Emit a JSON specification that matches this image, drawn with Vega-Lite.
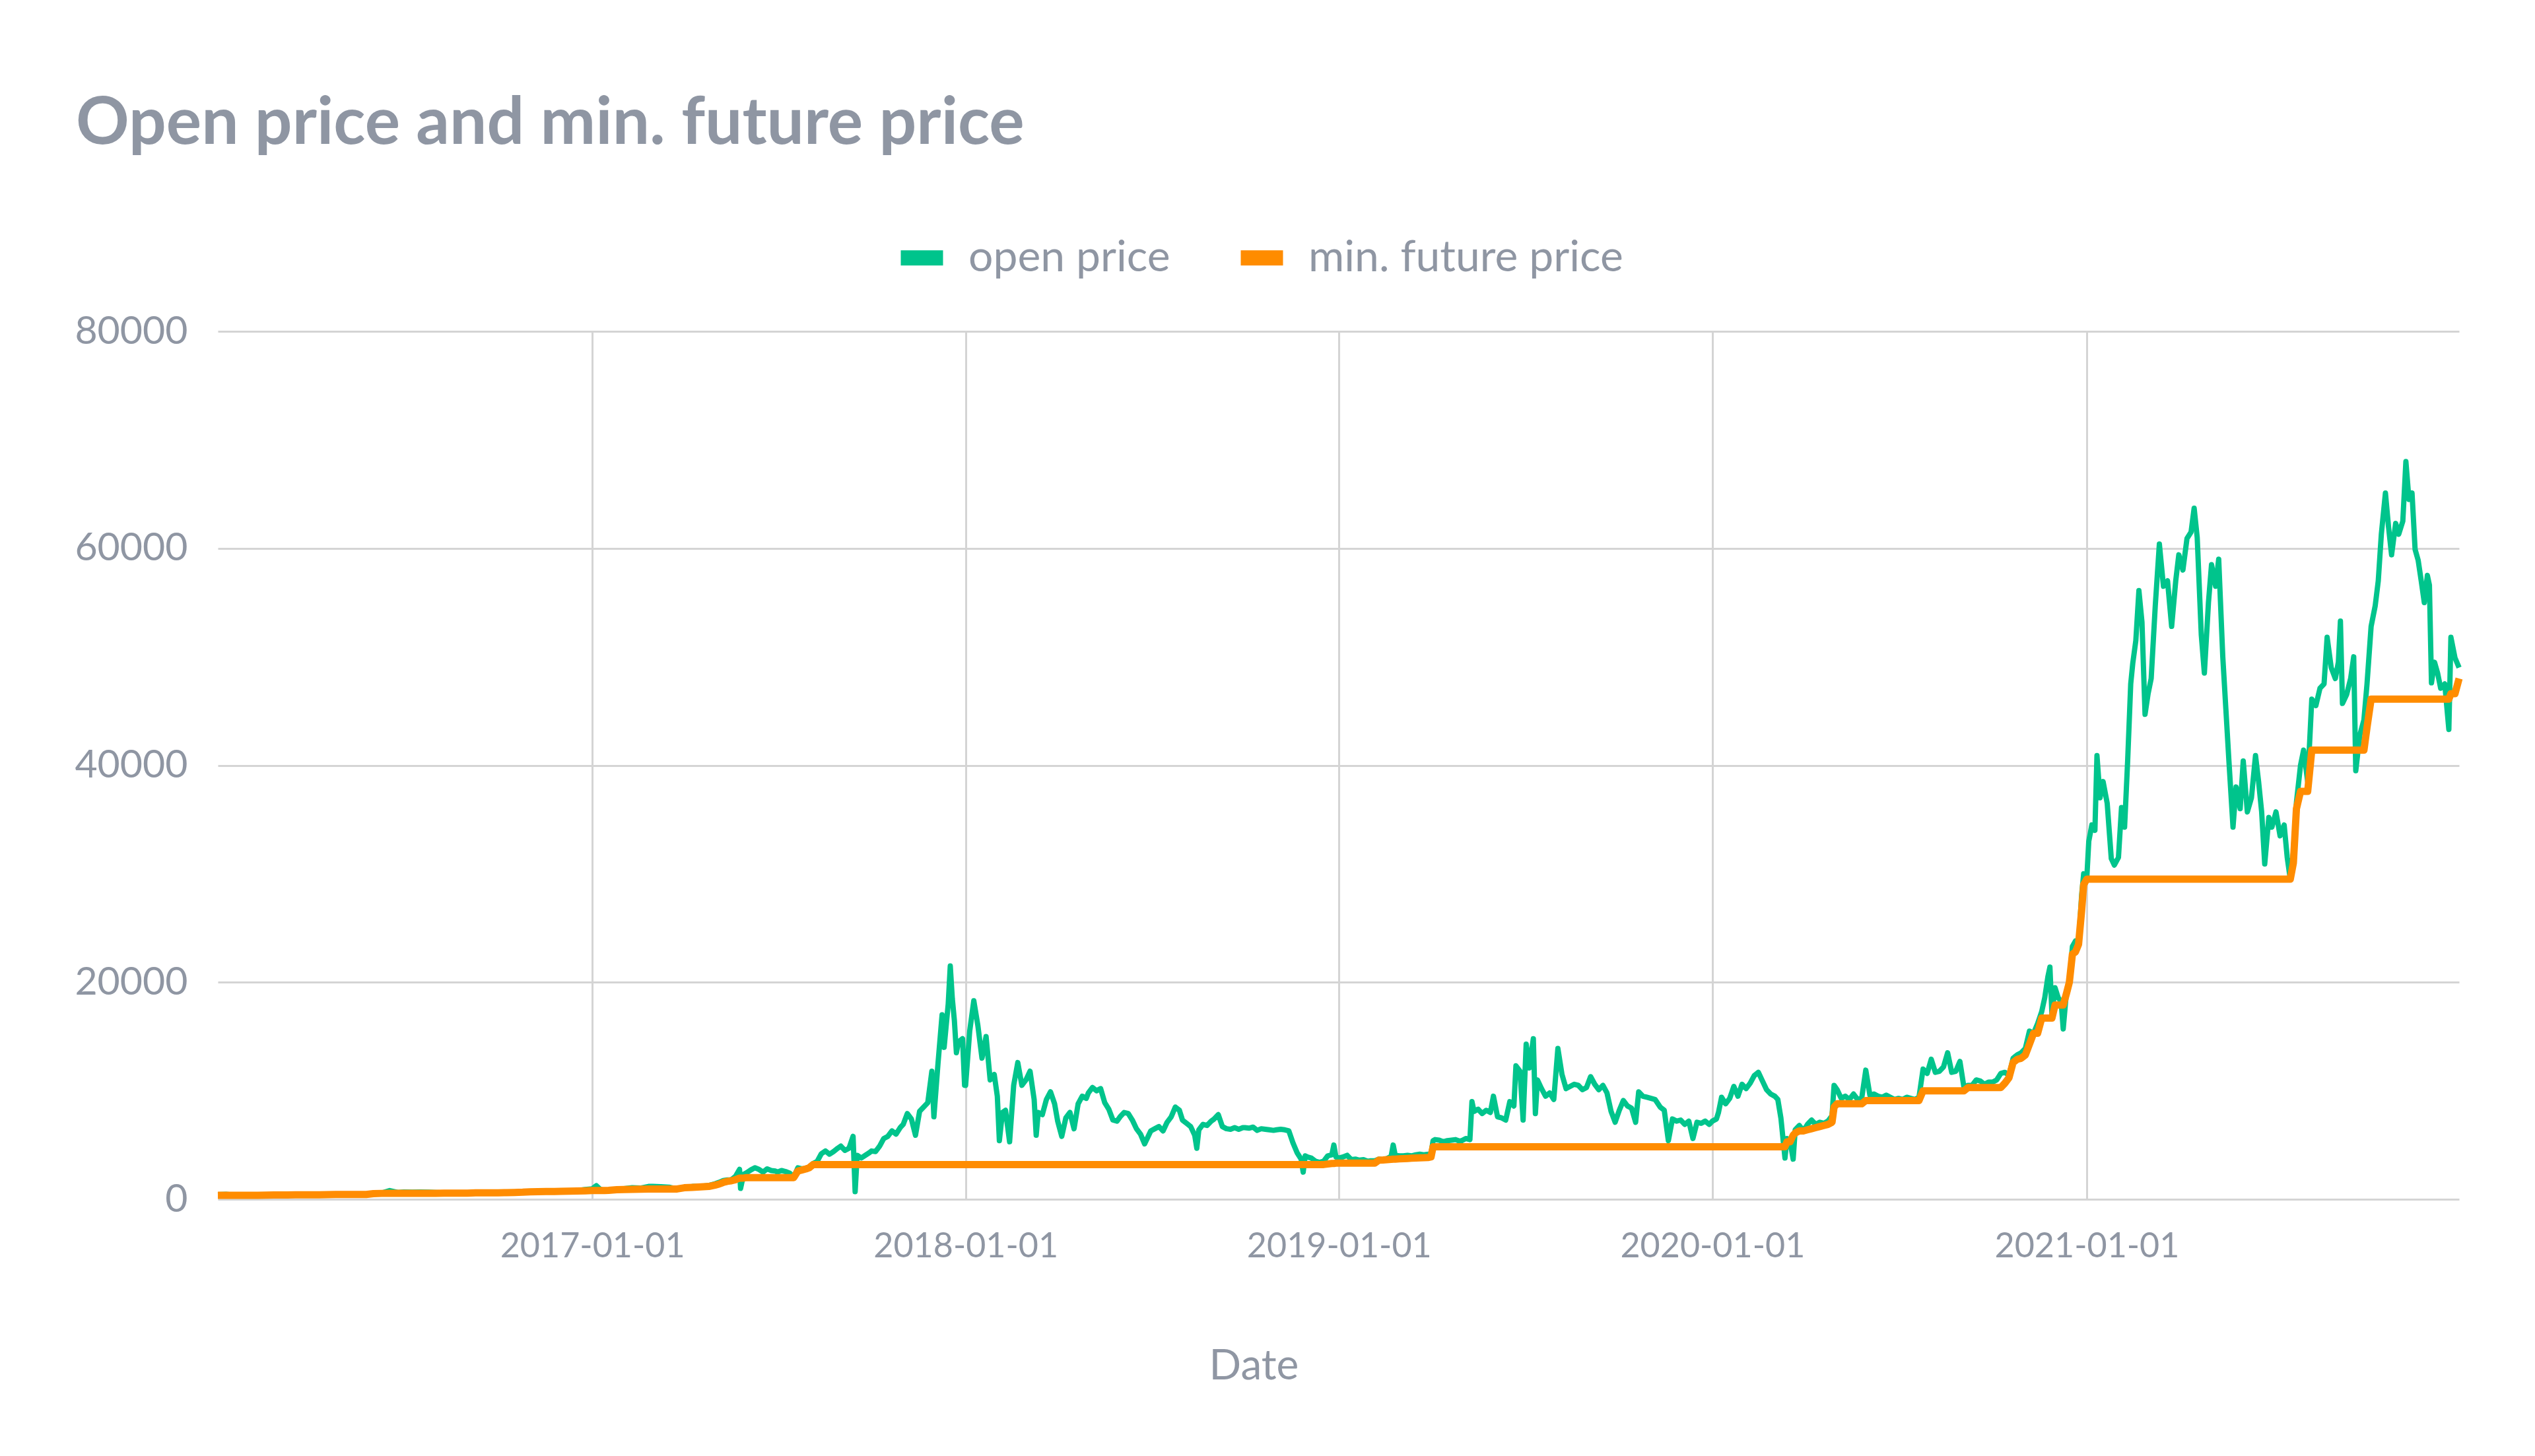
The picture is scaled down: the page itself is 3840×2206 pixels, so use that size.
{
"$schema":"https://vega.github.io/schema/vega-lite/v6.json",
"width":3395,"height":1315,
"autosize":{"type":"none"},
"padding":{"left":330,"top":502,"right":115,"bottom":389},
"background":"#ffffff",
"title":{"text":"Open price and min. future price","anchor":"start","frame":"group","dx":-215,"offset":108,"font":"Lato","fontSize":100,"fontWeight":"bold","color":"#8f96a3"},
"data":{"values":[
{"d":"2016-01-01","o":432,"m":370},{"d":"2016-01-09","o":450,"m":370},{"d":"2016-01-17","o":387,"m":370},{"d":"2016-01-25","o":395,"m":370},
{"d":"2016-02-01","o":373,"m":370},{"d":"2016-02-09","o":376,"m":372},{"d":"2016-02-17","o":407,"m":380},{"d":"2016-02-25","o":423,"m":400},
{"d":"2016-03-01","o":437,"m":400},{"d":"2016-03-09","o":412,"m":400},{"d":"2016-03-17","o":417,"m":405},{"d":"2016-03-25","o":417,"m":410},
{"d":"2016-04-01","o":416,"m":412},{"d":"2016-04-09","o":420,"m":415},{"d":"2016-04-17","o":430,"m":420},{"d":"2016-04-25","o":462,"m":440},
{"d":"2016-05-01","o":448,"m":440},{"d":"2016-05-09","o":458,"m":445},{"d":"2016-05-17","o":454,"m":445},{"d":"2016-05-25","o":446,"m":445},
{"d":"2016-06-01","o":531,"m":520},{"d":"2016-06-09","o":574,"m":540},{"d":"2016-06-17","o":800,"m":545},{"d":"2016-06-25","o":630,"m":545},
{"d":"2016-07-01","o":673,"m":545},{"d":"2016-07-09","o":650,"m":545},{"d":"2016-07-17","o":662,"m":545},{"d":"2016-07-25","o":660,"m":545},
{"d":"2016-08-01","o":624,"m":545},{"d":"2016-08-09","o":591,"m":560},{"d":"2016-08-17","o":576,"m":565},{"d":"2016-08-25","o":577,"m":570},
{"d":"2016-09-01","o":573,"m":570},{"d":"2016-09-09","o":622,"m":590},{"d":"2016-09-17","o":608,"m":595},{"d":"2016-09-25","o":601,"m":595},
{"d":"2016-10-01","o":610,"m":600},{"d":"2016-10-09","o":618,"m":610},{"d":"2016-10-17","o":640,"m":630},{"d":"2016-10-25","o":655,"m":650},
{"d":"2016-11-01","o":702,"m":690},{"d":"2016-11-09","o":711,"m":700},{"d":"2016-11-17","o":741,"m":710},{"d":"2016-11-25","o":739,"m":720},
{"d":"2016-12-01","o":748,"m":730},{"d":"2016-12-09","o":770,"m":750},{"d":"2016-12-17","o":790,"m":760},{"d":"2016-12-25","o":897,"m":780},
{"d":"2017-01-01","o":963,"m":800},{"d":"2017-01-05","o":1250,"m":800},{"d":"2017-01-09","o":905,"m":800},{"d":"2017-01-13","o":810,"m":800},
{"d":"2017-01-17","o":830,"m":820},{"d":"2017-01-25","o":920,"m":880},{"d":"2017-02-01","o":968,"m":900},{"d":"2017-02-09","o":1060,"m":920},
{"d":"2017-02-17","o":1030,"m":930},{"d":"2017-02-25","o":1180,"m":940},{"d":"2017-03-01","o":1190,"m":945},{"d":"2017-03-09","o":1150,"m":950},
{"d":"2017-03-17","o":1110,"m":950},{"d":"2017-03-25","o":960,"m":950},{"d":"2017-04-01","o":1080,"m":1060},{"d":"2017-04-09","o":1180,"m":1100},
{"d":"2017-04-17","o":1185,"m":1140},{"d":"2017-04-25","o":1265,"m":1180},
{"d":"2017-05-01","o":1430,"m":1300},{"d":"2017-05-05","o":1560,"m":1400},{"d":"2017-05-09","o":1720,"m":1550},{"d":"2017-05-13","o":1780,"m":1650},
{"d":"2017-05-17","o":1800,"m":1700},{"d":"2017-05-21","o":2100,"m":1800},{"d":"2017-05-25","o":2750,"m":1950},{"d":"2017-05-26","o":1000,"m":1950},
{"d":"2017-05-29","o":2300,"m":1950},
{"d":"2017-06-01","o":2450,"m":2000},{"d":"2017-06-05","o":2700,"m":2000},{"d":"2017-06-09","o":2900,"m":2000},{"d":"2017-06-13","o":2750,"m":2000},
{"d":"2017-06-17","o":2500,"m":2000},{"d":"2017-06-21","o":2800,"m":2000},{"d":"2017-06-25","o":2650,"m":2000},{"d":"2017-06-29","o":2600,"m":2000},
{"d":"2017-07-01","o":2500,"m":2000},{"d":"2017-07-05","o":2650,"m":2000},{"d":"2017-07-09","o":2550,"m":2000},{"d":"2017-07-13","o":2400,"m":2000},
{"d":"2017-07-17","o":2050,"m":2000},{"d":"2017-07-21","o":2900,"m":2600},{"d":"2017-07-25","o":2800,"m":2700},{"d":"2017-07-29","o":2850,"m":2800},
{"d":"2017-08-01","o":2950,"m":2900},{"d":"2017-08-05","o":3300,"m":3200},{"d":"2017-08-09","o":3500,"m":3200},{"d":"2017-08-13","o":4200,"m":3200},
{"d":"2017-08-17","o":4450,"m":3200},{"d":"2017-08-21","o":4150,"m":3200},{"d":"2017-08-25","o":4400,"m":3200},{"d":"2017-08-29","o":4700,"m":3200},
{"d":"2017-09-01","o":4900,"m":3200},{"d":"2017-09-05","o":4500,"m":3200},{"d":"2017-09-09","o":4700,"m":3200},{"d":"2017-09-13","o":5800,"m":3200},
{"d":"2017-09-15","o":700,"m":3200},{"d":"2017-09-17","o":4050,"m":3200},{"d":"2017-09-21","o":3800,"m":3200},{"d":"2017-09-25","o":4050,"m":3200},
{"d":"2017-09-29","o":4300,"m":3200},
{"d":"2017-10-01","o":4450,"m":3200},{"d":"2017-10-05","o":4400,"m":3200},{"d":"2017-10-09","o":4900,"m":3200},{"d":"2017-10-13","o":5600,"m":3200},
{"d":"2017-10-17","o":5800,"m":3200},{"d":"2017-10-21","o":6300,"m":3200},{"d":"2017-10-25","o":6000,"m":3200},{"d":"2017-10-29","o":6600,"m":3200},
{"d":"2017-11-01","o":6900,"m":3200},{"d":"2017-11-05","o":7900,"m":3200},{"d":"2017-11-09","o":7400,"m":3200},{"d":"2017-11-13","o":5900,"m":3200},
{"d":"2017-11-17","o":8100,"m":3200},{"d":"2017-11-21","o":8500,"m":3200},{"d":"2017-11-25","o":8900,"m":3200},{"d":"2017-11-29","o":11800,"m":3200},
{"d":"2017-12-01","o":7600,"m":3200},{"d":"2017-12-05","o":12500,"m":3200},{"d":"2017-12-09","o":17000,"m":3200},{"d":"2017-12-11","o":14000,"m":3200},
{"d":"2017-12-15","o":18000,"m":3200},{"d":"2017-12-17","o":21500,"m":3200},{"d":"2017-12-19","o":18500,"m":3200},{"d":"2017-12-21","o":16500,"m":3200},
{"d":"2017-12-23","o":13500,"m":3200},{"d":"2017-12-25","o":14500,"m":3200},{"d":"2017-12-29","o":14800,"m":3200},{"d":"2017-12-31","o":10500,"m":3200},
{"d":"2018-01-01","o":10500,"m":3200},{"d":"2018-01-05","o":15500,"m":3200},{"d":"2018-01-09","o":18300,"m":3200},{"d":"2018-01-13","o":16000,"m":3200},
{"d":"2018-01-17","o":13000,"m":3200},{"d":"2018-01-21","o":15000,"m":3200},{"d":"2018-01-25","o":11000,"m":3200},{"d":"2018-01-29","o":11500,"m":3200},
{"d":"2018-02-01","o":9500,"m":3200},{"d":"2018-02-03","o":5400,"m":3200},{"d":"2018-02-06","o":8000,"m":3200},{"d":"2018-02-09","o":8200,"m":3200},
{"d":"2018-02-13","o":5300,"m":3200},{"d":"2018-02-17","o":10500,"m":3200},{"d":"2018-02-21","o":12600,"m":3200},{"d":"2018-02-25","o":10500,"m":3200},
{"d":"2018-03-01","o":11000,"m":3200},{"d":"2018-03-05","o":11800,"m":3200},{"d":"2018-03-09","o":9200,"m":3200},{"d":"2018-03-11","o":5900,"m":3200},
{"d":"2018-03-13","o":8000,"m":3200},{"d":"2018-03-17","o":7800,"m":3200},{"d":"2018-03-21","o":9200,"m":3200},{"d":"2018-03-25","o":9900,"m":3200},
{"d":"2018-03-29","o":8800,"m":3200},{"d":"2018-04-01","o":7200,"m":3200},{"d":"2018-04-05","o":5800,"m":3200},{"d":"2018-04-09","o":7500,"m":3200},
{"d":"2018-04-13","o":8000,"m":3200},{"d":"2018-04-17","o":6500,"m":3200},{"d":"2018-04-21","o":8800,"m":3200},{"d":"2018-04-25","o":9500,"m":3200},
{"d":"2018-04-29","o":9300,"m":3200},{"d":"2018-05-01","o":9800,"m":3200},{"d":"2018-05-05","o":10300,"m":3200},{"d":"2018-05-09","o":10000,"m":3200},
{"d":"2018-05-13","o":10200,"m":3200},{"d":"2018-05-17","o":8900,"m":3200},{"d":"2018-05-21","o":8300,"m":3200},{"d":"2018-05-25","o":7300,"m":3200},
{"d":"2018-05-29","o":7200,"m":3200},{"d":"2018-06-01","o":7600,"m":3200},{"d":"2018-06-05","o":8000,"m":3200},{"d":"2018-06-09","o":7900,"m":3200},
{"d":"2018-06-13","o":7300,"m":3200},{"d":"2018-06-17","o":6500,"m":3200},{"d":"2018-06-21","o":6000,"m":3200},{"d":"2018-06-25","o":5100,"m":3200},
{"d":"2018-06-29","o":5900,"m":3200},{"d":"2018-07-01","o":6300,"m":3200},{"d":"2018-07-05","o":6500,"m":3200},{"d":"2018-07-09","o":6700,"m":3200},
{"d":"2018-07-13","o":6300,"m":3200},{"d":"2018-07-17","o":7100,"m":3200},{"d":"2018-07-21","o":7600,"m":3200},{"d":"2018-07-25","o":8500,"m":3200},
{"d":"2018-07-29","o":8200,"m":3200},{"d":"2018-08-01","o":7300,"m":3200},{"d":"2018-08-05","o":7000,"m":3200},{"d":"2018-08-09","o":6700,"m":3200},
{"d":"2018-08-13","o":5900,"m":3200},{"d":"2018-08-15","o":4700,"m":3200},{"d":"2018-08-17","o":6400,"m":3200},{"d":"2018-08-21","o":6900,"m":3200},
{"d":"2018-08-25","o":6800,"m":3200},{"d":"2018-08-29","o":7200,"m":3200},{"d":"2018-09-01","o":7400,"m":3200},{"d":"2018-09-05","o":7800,"m":3200},
{"d":"2018-09-09","o":6700,"m":3200},{"d":"2018-09-13","o":6500,"m":3200},{"d":"2018-09-17","o":6450,"m":3200},{"d":"2018-09-21","o":6600,"m":3200},
{"d":"2018-09-25","o":6450,"m":3200},{"d":"2018-09-29","o":6600,"m":3200},{"d":"2018-10-01","o":6600,"m":3200},{"d":"2018-10-05","o":6550,"m":3200},
{"d":"2018-10-09","o":6650,"m":3200},{"d":"2018-10-13","o":6350,"m":3200},{"d":"2018-10-17","o":6500,"m":3200},{"d":"2018-10-21","o":6450,"m":3200},
{"d":"2018-10-25","o":6400,"m":3200},{"d":"2018-10-29","o":6350,"m":3200},{"d":"2018-11-01","o":6400,"m":3200},{"d":"2018-11-05","o":6450,"m":3200},
{"d":"2018-11-09","o":6400,"m":3200},{"d":"2018-11-13","o":6300,"m":3200},{"d":"2018-11-17","o":5200,"m":3200},{"d":"2018-11-21","o":4300,"m":3200},
{"d":"2018-11-25","o":3700,"m":3200},{"d":"2018-11-27","o":2500,"m":3200},{"d":"2018-11-29","o":4000,"m":3200},{"d":"2018-12-01","o":3900,"m":3200},
{"d":"2018-12-05","o":3800,"m":3200},{"d":"2018-12-09","o":3500,"m":3200},{"d":"2018-12-13","o":3400,"m":3200},{"d":"2018-12-17","o":3500,"m":3200},
{"d":"2018-12-21","o":4000,"m":3250},{"d":"2018-12-25","o":4100,"m":3300},{"d":"2018-12-27","o":5000,"m":3300},{"d":"2018-12-29","o":3900,"m":3330},
{"d":"2019-01-01","o":3800,"m":3330},{"d":"2019-01-05","o":3900,"m":3330},{"d":"2019-01-09","o":4050,"m":3330},{"d":"2019-01-13","o":3650,"m":3330},
{"d":"2019-01-17","o":3700,"m":3330},{"d":"2019-01-21","o":3600,"m":3330},{"d":"2019-01-25","o":3650,"m":3330},{"d":"2019-01-29","o":3500,"m":3330},
{"d":"2019-02-01","o":3550,"m":3330},{"d":"2019-02-05","o":3550,"m":3330},{"d":"2019-02-09","o":3700,"m":3600},{"d":"2019-02-13","o":3650,"m":3620},
{"d":"2019-02-17","o":3750,"m":3650},{"d":"2019-02-21","o":3950,"m":3680},{"d":"2019-02-23","o":5000,"m":3700},{"d":"2019-02-25","o":4050,"m":3700},
{"d":"2019-03-01","o":4000,"m":3720},{"d":"2019-03-05","o":4000,"m":3740},{"d":"2019-03-09","o":4050,"m":3760},{"d":"2019-03-13","o":4000,"m":3780},
{"d":"2019-03-17","o":4100,"m":3800},{"d":"2019-03-21","o":4150,"m":3820},{"d":"2019-03-25","o":4100,"m":3830},{"d":"2019-03-29","o":4150,"m":3850},
{"d":"2019-04-01","o":4200,"m":3900},{"d":"2019-04-03","o":5400,"m":4840},{"d":"2019-04-05","o":5500,"m":4840},{"d":"2019-04-09","o":5450,"m":4840},
{"d":"2019-04-13","o":5300,"m":4840},{"d":"2019-04-17","o":5400,"m":4840},{"d":"2019-04-21","o":5450,"m":4840},{"d":"2019-04-25","o":5500,"m":4840},
{"d":"2019-04-29","o":5350,"m":4840},{"d":"2019-05-01","o":5400,"m":4840},{"d":"2019-05-05","o":5600,"m":4840},{"d":"2019-05-09","o":5500,"m":4840},
{"d":"2019-05-11","o":9000,"m":4840},{"d":"2019-05-13","o":8100,"m":4840},{"d":"2019-05-17","o":8300,"m":4840},{"d":"2019-05-21","o":7900,"m":4840},
{"d":"2019-05-25","o":8200,"m":4840},{"d":"2019-05-29","o":8000,"m":4840},{"d":"2019-06-01","o":9500,"m":4840},{"d":"2019-06-05","o":7600,"m":4840},
{"d":"2019-06-09","o":7500,"m":4840},{"d":"2019-06-13","o":7300,"m":4840},{"d":"2019-06-17","o":9000,"m":4840},{"d":"2019-06-21","o":8600,"m":4840},
{"d":"2019-06-23","o":12300,"m":4840},{"d":"2019-06-27","o":11800,"m":4840},{"d":"2019-06-30","o":7300,"m":4840},{"d":"2019-07-03","o":14300,"m":4840},
{"d":"2019-07-06","o":12100,"m":4840},{"d":"2019-07-10","o":14800,"m":4840},{"d":"2019-07-12","o":7900,"m":4840},{"d":"2019-07-14","o":11000,"m":4840},
{"d":"2019-07-18","o":10200,"m":4840},{"d":"2019-07-22","o":9500,"m":4840},{"d":"2019-07-26","o":9800,"m":4840},{"d":"2019-07-30","o":9200,"m":4840},
{"d":"2019-08-03","o":13900,"m":4840},{"d":"2019-08-07","o":11500,"m":4840},{"d":"2019-08-11","o":10200,"m":4840},{"d":"2019-08-15","o":10400,"m":4840},
{"d":"2019-08-19","o":10600,"m":4840},{"d":"2019-08-23","o":10500,"m":4840},{"d":"2019-08-27","o":10100,"m":4840},{"d":"2019-08-31","o":10300,"m":4840},
{"d":"2019-09-04","o":11300,"m":4840},{"d":"2019-09-08","o":10600,"m":4840},{"d":"2019-09-12","o":10100,"m":4840},{"d":"2019-09-16","o":10500,"m":4840},
{"d":"2019-09-20","o":9800,"m":4840},{"d":"2019-09-24","o":8100,"m":4840},{"d":"2019-09-28","o":7100,"m":4840},{"d":"2019-10-02","o":8200,"m":4840},
{"d":"2019-10-06","o":9100,"m":4840},{"d":"2019-10-10","o":8600,"m":4840},{"d":"2019-10-14","o":8400,"m":4840},{"d":"2019-10-18","o":7100,"m":4840},
{"d":"2019-10-21","o":9900,"m":4840},{"d":"2019-10-25","o":9500,"m":4840},{"d":"2019-10-29","o":9400,"m":4840},{"d":"2019-11-02","o":9300,"m":4840},
{"d":"2019-11-06","o":9200,"m":4840},{"d":"2019-11-11","o":8500,"m":4840},{"d":"2019-11-15","o":8200,"m":4840},{"d":"2019-11-19","o":5400,"m":4840},
{"d":"2019-11-23","o":7400,"m":4840},{"d":"2019-11-27","o":7200,"m":4840},{"d":"2019-12-01","o":7300,"m":4840},{"d":"2019-12-05","o":6900,"m":4840},
{"d":"2019-12-09","o":7200,"m":4840},{"d":"2019-12-13","o":5600,"m":4840},{"d":"2019-12-17","o":7100,"m":4840},{"d":"2019-12-21","o":7000,"m":4840},
{"d":"2019-12-25","o":7200,"m":4840},{"d":"2019-12-29","o":6900,"m":4840},
{"d":"2020-01-01","o":7200,"m":4840},{"d":"2020-01-05","o":7400,"m":4840},{"d":"2020-01-07","o":8000,"m":4840},{"d":"2020-01-10","o":9400,"m":4840},
{"d":"2020-01-14","o":8800,"m":4840},{"d":"2020-01-18","o":9300,"m":4840},{"d":"2020-01-22","o":10400,"m":4840},{"d":"2020-01-26","o":9500,"m":4840},
{"d":"2020-01-30","o":10600,"m":4840},{"d":"2020-02-03","o":10200,"m":4840},{"d":"2020-02-07","o":10700,"m":4840},{"d":"2020-02-11","o":11400,"m":4840},
{"d":"2020-02-15","o":11700,"m":4840},{"d":"2020-02-19","o":10900,"m":4840},{"d":"2020-02-23","o":10100,"m":4840},{"d":"2020-02-27","o":9700,"m":4840},
{"d":"2020-03-02","o":9500,"m":4840},{"d":"2020-03-05","o":9200,"m":4840},{"d":"2020-03-08","o":7500,"m":4840},{"d":"2020-03-12","o":3800,"m":4840},
{"d":"2020-03-14","o":5600,"m":5300},{"d":"2020-03-17","o":5300,"m":5300},{"d":"2020-03-20","o":3700,"m":5900},{"d":"2020-03-22","o":6400,"m":6100},
{"d":"2020-03-26","o":6800,"m":6300},{"d":"2020-03-30","o":6300,"m":6300},{"d":"2020-04-03","o":6900,"m":6400},{"d":"2020-04-07","o":7300,"m":6500},
{"d":"2020-04-11","o":6900,"m":6600},{"d":"2020-04-15","o":7100,"m":6700},{"d":"2020-04-19","o":7000,"m":6800},{"d":"2020-04-23","o":7200,"m":6900},
{"d":"2020-04-27","o":7700,"m":7100},{"d":"2020-04-29","o":10500,"m":8500},{"d":"2020-05-02","o":10100,"m":8800},{"d":"2020-05-06","o":9300,"m":8800},
{"d":"2020-05-10","o":9500,"m":8800},{"d":"2020-05-14","o":9200,"m":8800},{"d":"2020-05-18","o":9700,"m":8800},{"d":"2020-05-22","o":9200,"m":8800},
{"d":"2020-05-26","o":9300,"m":8800},{"d":"2020-05-30","o":11900,"m":9100},{"d":"2020-06-03","o":9600,"m":9100},{"d":"2020-06-07","o":9700,"m":9100},
{"d":"2020-06-11","o":9500,"m":9100},{"d":"2020-06-15","o":9400,"m":9100},{"d":"2020-06-19","o":9600,"m":9100},{"d":"2020-06-23","o":9400,"m":9100},
{"d":"2020-06-27","o":9200,"m":9100},{"d":"2020-07-01","o":9300,"m":9100},{"d":"2020-07-05","o":9200,"m":9100},{"d":"2020-07-09","o":9400,"m":9100},
{"d":"2020-07-13","o":9300,"m":9100},{"d":"2020-07-17","o":9200,"m":9100},{"d":"2020-07-21","o":9400,"m":9100},{"d":"2020-07-25","o":12000,"m":10000},
{"d":"2020-07-29","o":11600,"m":10000},{"d":"2020-08-02","o":12900,"m":10000},{"d":"2020-08-06","o":11700,"m":10000},{"d":"2020-08-10","o":11800,"m":10000},
{"d":"2020-08-14","o":12200,"m":10000},{"d":"2020-08-18","o":13500,"m":10000},{"d":"2020-08-22","o":11700,"m":10000},{"d":"2020-08-26","o":11800,"m":10000},
{"d":"2020-08-30","o":12700,"m":10000},{"d":"2020-09-03","o":10300,"m":10000},{"d":"2020-09-07","o":10500,"m":10300},{"d":"2020-09-11","o":10500,"m":10300},
{"d":"2020-09-15","o":11000,"m":10300},{"d":"2020-09-19","o":10900,"m":10300},{"d":"2020-09-23","o":10600,"m":10300},{"d":"2020-09-27","o":10800,"m":10300},
{"d":"2020-10-01","o":10800,"m":10300},{"d":"2020-10-05","o":11000,"m":10300},{"d":"2020-10-09","o":11600,"m":10300},{"d":"2020-10-13","o":11700,"m":10700},
{"d":"2020-10-17","o":11400,"m":11200},{"d":"2020-10-21","o":13000,"m":12600},{"d":"2020-10-25","o":13300,"m":12900},{"d":"2020-10-29","o":13500,"m":13000},
{"d":"2020-11-02","o":13900,"m":13300},{"d":"2020-11-06","o":15500,"m":14300},{"d":"2020-11-10","o":15300,"m":15300},{"d":"2020-11-14","o":16200,"m":15300},
{"d":"2020-11-18","o":17300,"m":16700},{"d":"2020-11-21","o":18600,"m":16700},{"d":"2020-11-24","o":20500,"m":16700},{"d":"2020-11-26","o":21400,"m":16700},
{"d":"2020-11-28","o":17000,"m":16700},{"d":"2020-12-01","o":19500,"m":17900},{"d":"2020-12-04","o":18600,"m":17900},{"d":"2020-12-07","o":18200,"m":17900},
{"d":"2020-12-09","o":15700,"m":17900},{"d":"2020-12-12","o":18900,"m":18900},{"d":"2020-12-15","o":20000,"m":20000},{"d":"2020-12-18","o":23300,"m":22600},
{"d":"2020-12-21","o":23800,"m":22800},{"d":"2020-12-24","o":23500,"m":23500},{"d":"2020-12-27","o":28000,"m":26600},{"d":"2020-12-29","o":30000,"m":29000},
{"d":"2021-01-01","o":29500,"m":29500},{"d":"2021-01-03","o":33000,"m":29500},{"d":"2021-01-06","o":34500,"m":29500},{"d":"2021-01-09","o":34000,"m":29500},
{"d":"2021-01-11","o":40900,"m":29500},{"d":"2021-01-14","o":37000,"m":29500},{"d":"2021-01-17","o":38500,"m":29500},{"d":"2021-01-21","o":36500,"m":29500},
{"d":"2021-01-25","o":31400,"m":29500},{"d":"2021-01-28","o":30800,"m":29500},{"d":"2021-02-01","o":31500,"m":29500},{"d":"2021-02-04","o":36100,"m":29500},
{"d":"2021-02-07","o":34300,"m":29500},{"d":"2021-02-10","o":40400,"m":29500},{"d":"2021-02-13","o":47500,"m":29500},{"d":"2021-02-15","o":49400,"m":29500},
{"d":"2021-02-18","o":51500,"m":29500},{"d":"2021-02-21","o":56100,"m":29500},{"d":"2021-02-24","o":53200,"m":29500},{"d":"2021-02-27","o":44700,"m":29500},
{"d":"2021-03-02","o":46600,"m":29500},{"d":"2021-03-05","o":48000,"m":29500},{"d":"2021-03-09","o":54700,"m":29500},{"d":"2021-03-13","o":60400,"m":29500},
{"d":"2021-03-17","o":56500,"m":29500},{"d":"2021-03-21","o":57000,"m":29500},{"d":"2021-03-25","o":52800,"m":29500},{"d":"2021-03-29","o":57000,"m":29500},
{"d":"2021-04-01","o":59400,"m":29500},{"d":"2021-04-05","o":58000,"m":29500},{"d":"2021-04-09","o":60900,"m":29500},{"d":"2021-04-13","o":61500,"m":29500},
{"d":"2021-04-16","o":63700,"m":29500},{"d":"2021-04-19","o":61000,"m":29500},{"d":"2021-04-23","o":52000,"m":29500},{"d":"2021-04-26","o":48500,"m":29500},
{"d":"2021-04-30","o":55000,"m":29500},{"d":"2021-05-03","o":58500,"m":29500},{"d":"2021-05-07","o":56500,"m":29500},{"d":"2021-05-10","o":59000,"m":29500},
{"d":"2021-05-14","o":50000,"m":29500},{"d":"2021-05-17","o":45200,"m":29500},{"d":"2021-05-20","o":40400,"m":29500},{"d":"2021-05-24","o":34300,"m":29500},
{"d":"2021-05-27","o":38000,"m":29500},{"d":"2021-05-31","o":36000,"m":29500},{"d":"2021-06-03","o":40400,"m":29500},{"d":"2021-06-07","o":35700,"m":29500},
{"d":"2021-06-11","o":37000,"m":29500},{"d":"2021-06-15","o":40900,"m":29500},{"d":"2021-06-18","o":38500,"m":29500},{"d":"2021-06-21","o":35700,"m":29500},
{"d":"2021-06-24","o":30900,"m":29500},{"d":"2021-06-28","o":35200,"m":29500},{"d":"2021-07-01","o":34300,"m":29500},{"d":"2021-07-05","o":35700,"m":29500},
{"d":"2021-07-09","o":33500,"m":29500},{"d":"2021-07-13","o":34500,"m":29500},{"d":"2021-07-16","o":31500,"m":29500},{"d":"2021-07-19","o":29500,"m":29500},
{"d":"2021-07-22","o":32000,"m":31000},{"d":"2021-07-25","o":36600,"m":36000},{"d":"2021-07-29","o":40000,"m":37600},{"d":"2021-08-01","o":41400,"m":37600},
{"d":"2021-08-05","o":38500,"m":37600},{"d":"2021-08-09","o":46100,"m":41400},{"d":"2021-08-13","o":45500,"m":41400},{"d":"2021-08-17","o":47100,"m":41400},
{"d":"2021-08-21","o":47500,"m":41400},{"d":"2021-08-24","o":51800,"m":41400},{"d":"2021-08-28","o":49000,"m":41400},{"d":"2021-09-01","o":48000,"m":41400},
{"d":"2021-09-04","o":49500,"m":41400},{"d":"2021-09-06","o":53300,"m":41400},{"d":"2021-09-08","o":45700,"m":41400},{"d":"2021-09-12","o":46500,"m":41400},
{"d":"2021-09-16","o":48000,"m":41400},{"d":"2021-09-19","o":50000,"m":41400},{"d":"2021-09-21","o":39500,"m":41400},{"d":"2021-09-25","o":42800,"m":41400},
{"d":"2021-09-29","o":44200,"m":41400},{"d":"2021-10-02","o":47500,"m":43500},{"d":"2021-10-06","o":52800,"m":46100},{"d":"2021-10-10","o":54700,"m":46100},
{"d":"2021-10-13","o":57000,"m":46100},{"d":"2021-10-16","o":61300,"m":46100},{"d":"2021-10-20","o":65100,"m":46100},{"d":"2021-10-23","o":62000,"m":46100},
{"d":"2021-10-26","o":59400,"m":46100},{"d":"2021-10-30","o":62300,"m":46100},{"d":"2021-11-02","o":61300,"m":46100},{"d":"2021-11-06","o":62500,"m":46100},
{"d":"2021-11-09","o":68000,"m":46100},{"d":"2021-11-12","o":64500,"m":46100},{"d":"2021-11-15","o":65100,"m":46100},{"d":"2021-11-18","o":59900,"m":46100},
{"d":"2021-11-21","o":58900,"m":46100},{"d":"2021-11-24","o":57000,"m":46100},{"d":"2021-11-27","o":55000,"m":46100},{"d":"2021-11-30","o":57500,"m":46100},
{"d":"2021-12-02","o":56600,"m":46100},{"d":"2021-12-04","o":47600,"m":46100},{"d":"2021-12-07","o":49500,"m":46100},{"d":"2021-12-10","o":48500,"m":46100},
{"d":"2021-12-13","o":47100,"m":46100},{"d":"2021-12-17","o":47500,"m":46100},{"d":"2021-12-21","o":43300,"m":46100},{"d":"2021-12-23","o":51800,"m":46600},
{"d":"2021-12-27","o":49900,"m":46600},{"d":"2021-12-31","o":49000,"m":48000}
]},
"encoding":{
 "x":{"field":"d","type":"temporal",
  "scale":{"type":"utc","domain":[{"year":2016,"month":1,"date":1,"utc":true},{"year":2021,"month":12,"date":31,"utc":true}],"nice":false},
  "axis":{"values":[{"year":2017,"month":1,"date":1,"utc":true},{"year":2018,"month":1,"date":1,"utc":true},{"year":2019,"month":1,"date":1,"utc":true},{"year":2020,"month":1,"date":1,"utc":true},{"year":2021,"month":1,"date":1,"utc":true}],
   "labelExpr":"utcFormat(datum.value, '%Y-%m-%d')",
   "grid":true,"gridColor":"#d4d4d4","gridWidth":3,"domain":false,"ticks":false,"tickSize":0,
   "labelFont":"Lato","labelFontSize":52,"labelColor":"#8f96a3","labelPadding":46,"labelFlush":false,"labelOverlap":false,"labelLimit":1000,
   "title":"Date","titleFont":"Lato","titleFontSize":64,"titleFontWeight":"normal","titleColor":"#8f96a3","titlePadding":124,"titleX":1569,"titleAlign":"center"}}
},
"layer":[
 {"mark":{"type":"line","strokeWidth":8,"strokeJoin":"round"},
  "encoding":{
   "y":{"field":"o","type":"quantitative","scale":{"domain":[0,80000],"nice":false},
    "axis":{"values":[0,20000,40000,60000,80000],"format":"d","grid":true,"gridColor":"#d4d4d4","gridWidth":3,"domain":false,"ticks":false,"tickSize":0,
     "labelFont":"Lato","labelFontSize":59,"labelColor":"#8f96a3","labelPadding":46,"title":null}},
   "color":{"datum":"open price","type":"nominal",
    "scale":{"domain":["open price","min. future price"],"range":["#00c48c","#ff8c00"]},
    "legend":{"title":null,"orient":"none","legendX":1023,"legendY":-155,"direction":"horizontal","symbolType":"stroke","symbolSize":4096,"symbolStrokeWidth":23,
     "labelFont":"Lato","labelFontSize":66,"labelColor":"#8f96a3","labelOffset":27,"columnPadding":60,"labelLimit":1000}}
  }},
 {"mark":{"type":"line","strokeWidth":11,"strokeJoin":"round"},
  "encoding":{
   "y":{"field":"m","type":"quantitative","axis":{"title":null}},
   "color":{"datum":"min. future price","type":"nominal"}
  }}
],
"config":{"view":{"stroke":null},"font":"Lato"}
}
